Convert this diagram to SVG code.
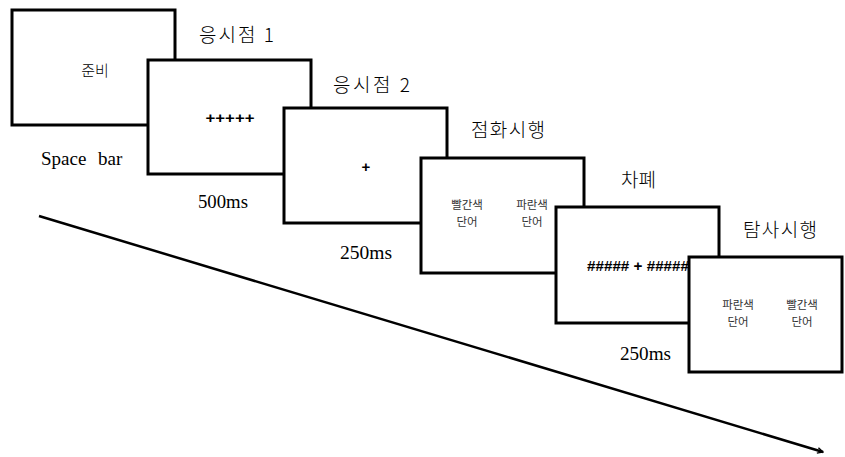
<svg xmlns="http://www.w3.org/2000/svg" width="845" height="457" viewBox="0 0 845 457">
<style>
.box{fill:#fff;stroke:#000;stroke-width:3}
.ko{font-family:"Noto Sans CJK KR","Noto Sans",sans-serif;fill:#000}
.title{font-size:19px;font-weight:300}
.small{font-size:11.5px;fill:#333;text-anchor:middle}
.sv{font-family:"Liberation Serif",serif;font-size:19px;fill:#000}
.stim{font-family:"Liberation Sans",sans-serif;font-weight:bold;fill:#000;text-anchor:middle}
</style>
<defs>
<marker id="ah" viewBox="0 0 10 10" refX="9" refY="5" markerWidth="7" markerHeight="7" orient="auto" markerUnits="userSpaceOnUse">
<path d="M1,1 L9,5 L1,9" fill="none" stroke="#000" stroke-width="2"/>
</marker>
</defs>
<g id="connectors">
<line x1="39" y1="216" x2="823" y2="452" stroke="#000" stroke-width="2.5" marker-end="url(#ah)"/>
</g>
<g id="labels">
<text class="ko title" x="199" y="42" textLength="75" lengthAdjust="spacing">응시점 1</text>
<text class="sv" x="41" y="165">Space<tspan x="98">bar</tspan></text>
<text class="sv" x="198" y="208" textLength="50" lengthAdjust="spacingAndGlyphs">500ms</text>
<text class="ko title" x="333" y="92" textLength="77" lengthAdjust="spacing">응시점 2</text>
<text class="sv" x="340" y="259" textLength="52" lengthAdjust="spacingAndGlyphs">250ms</text>
<text class="ko title" x="471" y="137" textLength="74" lengthAdjust="spacing">점화시행</text>
<text class="ko title" x="621" y="187">차폐</text>
<text class="ko title" x="743" y="237" textLength="74" lengthAdjust="spacing">탐사시행</text>
<text class="sv" x="620" y="360" textLength="51" lengthAdjust="spacingAndGlyphs">250ms</text>
</g>
<g id="node1">
<rect class="box" x="12" y="10" width="163" height="115"/>
<text class="ko" x="95" y="76" font-size="15" font-weight="300" text-anchor="middle">준비</text>
</g>
<g id="node2">
<rect class="box" x="148" y="60" width="163" height="114"/>
<text class="stim" x="230" y="123" font-size="15" textLength="49" lengthAdjust="spacingAndGlyphs">+++++</text>
</g>
<g id="node3">
<rect class="box" x="284" y="108" width="163" height="115"/>
<text class="stim" x="366" y="172" font-size="15">+</text>
</g>
<g id="node4">
<rect class="box" x="421" y="158" width="163" height="115"/>
<text class="ko small" x="467" y="209">빨간색</text>
<text class="ko small" x="467" y="226">단어</text>
<text class="ko small" x="532" y="209">파란색</text>
<text class="ko small" x="532" y="226">단어</text>
</g>
<g id="node5">
<rect class="box" x="556" y="207" width="163" height="116"/>
<text class="stim" x="638" y="271" font-size="14" textLength="102" lengthAdjust="spacingAndGlyphs">##### + #####</text>
</g>
<g id="node6">
<rect class="box" x="689" y="257" width="153" height="115"/>
<text class="ko small" x="738" y="309">파란색</text>
<text class="ko small" x="738" y="326">단어</text>
<text class="ko small" x="802" y="309">빨간색</text>
<text class="ko small" x="802" y="326">단어</text>
</g>
</svg>
